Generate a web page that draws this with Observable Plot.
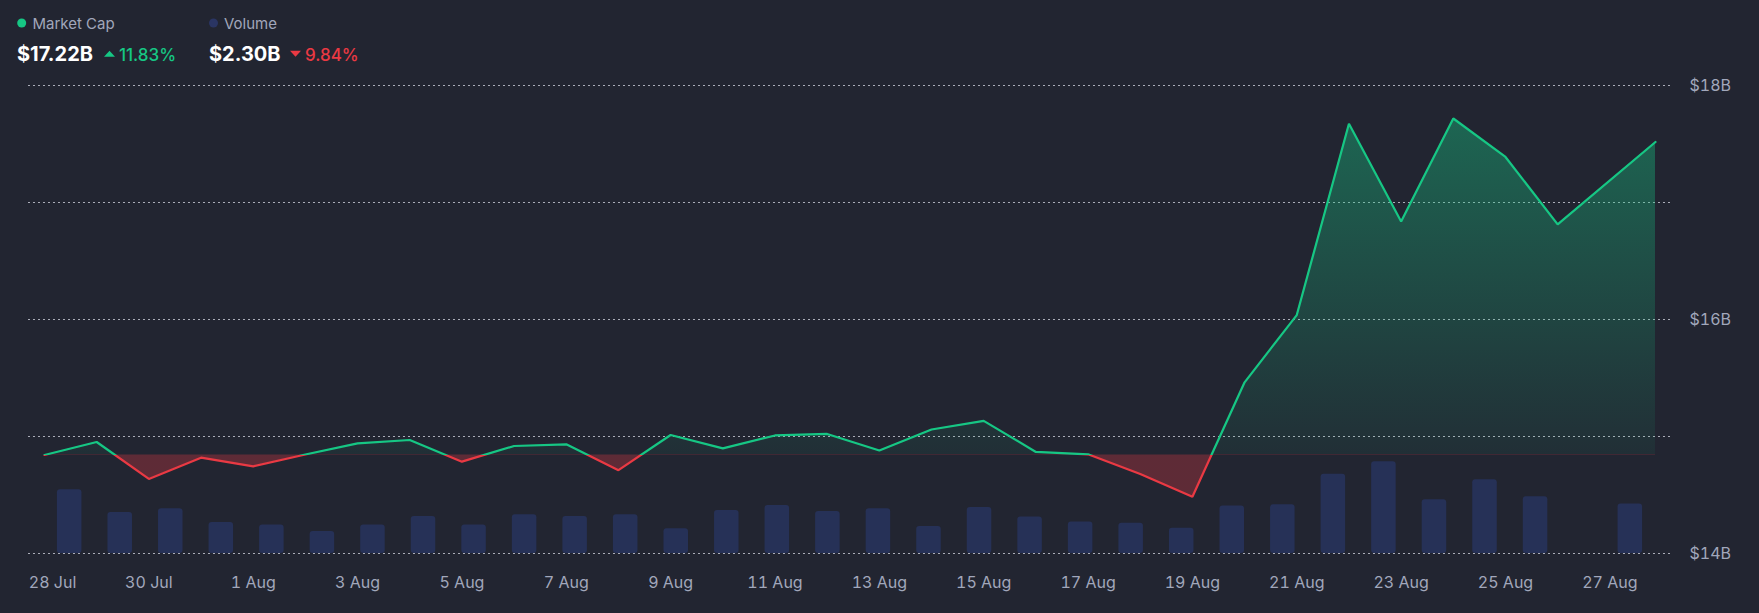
<!DOCTYPE html>
<html>
<head>
<meta charset="utf-8">
<script src="https://cdn.jsdelivr.net/npm/d3@7"></script>
<script src="https://cdn.jsdelivr.net/npm/@observablehq/plot@0.6"></script>
<style>
  html, body { margin: 0; padding: 0; background: #222531; overflow: hidden; }
  #wrap { width: 1759px; height: 613px; background: #222531; }
  #wrap svg { display: block; }
</style>
</head>
<body>
<div id="wrap"></div>
<script>
// ---------- data ----------
const dates = [
  "2023-07-28", "2023-07-29", "2023-07-30", "2023-07-31",
  "2023-08-01", "2023-08-02", "2023-08-03", "2023-08-04", "2023-08-05",
  "2023-08-06", "2023-08-07", "2023-08-08", "2023-08-09", "2023-08-10",
  "2023-08-11", "2023-08-12", "2023-08-13", "2023-08-14", "2023-08-15",
  "2023-08-16", "2023-08-17", "2023-08-18", "2023-08-19", "2023-08-20",
  "2023-08-21", "2023-08-22", "2023-08-23", "2023-08-24", "2023-08-25",
  "2023-08-26", "2023-08-27T21:00"
];
// market cap, $B
const marketCap = [
  14.842, 14.953, 14.637, 14.819, 14.745, 14.846, 14.941, 14.970, 14.785,
  14.919, 14.933, 14.712, 15.013, 14.899, 15.009, 15.022, 14.880, 15.060,
  15.134, 14.868, 14.848, 14.679, 14.485, 15.463, 16.038, 17.673, 16.837,
  17.718, 17.389, 16.813, 17.517
];
// volume, $B
const volume = [
  2.96, 1.91, 2.08, 1.44, 1.32, 1.02, 1.32, 1.72, 1.32,
  1.80, 1.72, 1.80, 1.15, 2.00, 2.23, 1.95, 2.08, 1.25,
  2.14, 1.69, 1.46, 1.40, 1.17, 2.21, 2.26, 3.68, 4.26,
  2.50, 3.43, 2.64, 2.30
];
const xTickDates = [
  "2023-07-28", "2023-07-30", "2023-08-01", "2023-08-03", "2023-08-05",
  "2023-08-07", "2023-08-09", "2023-08-11", "2023-08-13", "2023-08-15",
  "2023-08-17", "2023-08-19", "2023-08-21", "2023-08-23", "2023-08-25",
  "2023-08-27"
];
const yGrid = [14, 15, 16, 17, 18];
const yLabels = [14, 16, 18];

const header = {
  capLabel: "Market Cap", capValue: "$17.22B", capChange: "11.83%",
  volLabel: "Volume", volValue: "$2.30B", volChange: "9.84%"
};

// ---------- style ----------
const GREEN = "#16c784", RED = "#ea3943", BAR = "#263157", VOLDOT = "#2a3563";
const TEXT = "#a1a7bb", BG = "#222531";
const FONT = "Inter, 'Noto Sans', sans-serif";

const parse = s => new Date(s.includes("T") ? s + ":00Z" : s + "T00:00:00Z");
const rows = dates.map((d, i) => ({ date: parse(d), cap: marketCap[i], vol: volume[i] }));
const baseline = marketCap[0];
const yDomain = [14, 18];
const volToCap = 0.184;           // volume bars share the lower band of the cap axis
const t0 = rows[0].date, tN = rows[rows.length - 1].date, span = tN - t0;
const barSlots = 32;
const barCenter = d => +t0 + (d.date - t0) * (1 - 1 / barSlots) + span / (2 * barSlots);
const barHalf = 0.235 * 864e5;
const ticks = xTickDates.map(parse);

// ---------- header (legend) ----------
const wrap = d3.select("#wrap");
const hs = wrap.append("svg").attr("width", 1759).attr("height", 70)
  .style("background", BG).attr("font-family", FONT);
hs.append("circle").attr("cx", 21.7).attr("cy", 23).attr("r", 4.5).attr("fill", GREEN);
hs.append("text").attr("x", 32.5).attr("y", 28.5).attr("font-size", 15).attr("fill", TEXT).text(header.capLabel);
hs.append("circle").attr("cx", 213.5).attr("cy", 23).attr("r", 4.5).attr("fill", VOLDOT);
hs.append("text").attr("x", 224).attr("y", 28.5).attr("font-size", 15).attr("fill", TEXT).text(header.volLabel);
hs.append("text").attr("x", 17).attr("y", 60.5).attr("font-size", 20).attr("font-weight", 700).attr("fill", "#fff").text(header.capValue);
hs.append("path").attr("d", "M104,56.7L115,56.7L109.5,50.7Z").attr("fill", GREEN);
hs.append("text").attr("x", 119).attr("y", 60.5).attr("font-size", 17).attr("font-weight", 500).attr("fill", GREEN).text(header.capChange);
hs.append("text").attr("x", 209).attr("y", 60.5).attr("font-size", 20).attr("font-weight", 700).attr("fill", "#fff").text(header.volValue);
hs.append("path").attr("d", "M290,50.7L301,50.7L295.5,56.7Z").attr("fill", RED);
hs.append("text").attr("x", 305).attr("y", 60.5).attr("font-size", 17).attr("font-weight", 500).attr("fill", RED).text(header.volChange);

// ---------- chart ----------
const axisOpts = { tickSize: 0, tickPadding: 23, tickFormat: d3.utcFormat("%-d %b"), label: null };
const chart = Plot.plot({
  width: 1759,
  height: 543,
  marginTop: 15,
  marginBottom: 60,
  marginLeft: 28,
  marginRight: 89,
  style: { background: BG, color: TEXT, fontFamily: FONT, fontSize: "16px" },
  x: {
    type: "utc",
    domain: [t0, tN],
    insetLeft: 16,
    insetRight: 15,
    axis: null
  },
  y: {
    domain: yDomain,
    axis: "right",
    ticks: yLabels,
    tickFormat: d => `$${d}B`,
    tickSize: 0,
    tickPadding: 19,
    label: null
  },
  marks: [
    Plot.ruleY(yGrid, { stroke: "#c3c6d0", strokeOpacity: 0.85, strokeDasharray: "2,3" }),
    Plot.rect(rows, {
      x1: d => new Date(barCenter(d) - barHalf),
      x2: d => new Date(barCenter(d) + barHalf),
      y1: () => yDomain[0],
      y2: d => yDomain[0] + d.vol * volToCap,
      fill: BAR,
      rx: 3
    }),
    Plot.areaY(rows, { x: "date", y1: () => baseline, y2: "cap", fill: "url(#capAreaGrad)" }),
    Plot.line(rows, { x: "date", y: "cap", stroke: "url(#capLineGrad)", strokeWidth: 2.2, strokeLinejoin: "miter" }),
    // first date label sits clamped against the left edge of the frame
    Plot.axisX(ticks.slice(0, 1), { ...axisOpts, dx: 8 }),
    Plot.axisX(ticks.slice(1), axisOpts)
  ]
});

const svg = d3.select(chart.tagName.toLowerCase() === "svg" ? chart : chart.querySelector("svg"));
const ys = chart.scale("y");
const H = 543;
const by = ys.apply(baseline);
const topY = ys.apply(d3.max(marketCap));
const botY = ys.apply(yDomain[0]);
const defs = svg.insert("defs", ":first-child");

const lg = defs.append("linearGradient").attr("id", "capLineGrad")
  .attr("gradientUnits", "userSpaceOnUse").attr("x1", 0).attr("x2", 0).attr("y1", 0).attr("y2", H);
lg.append("stop").attr("offset", by / H).attr("stop-color", GREEN);
lg.append("stop").attr("offset", by / H).attr("stop-color", RED);

const ag = defs.append("linearGradient").attr("id", "capAreaGrad")
  .attr("gradientUnits", "userSpaceOnUse").attr("x1", 0).attr("x2", 0).attr("y1", topY).attr("y2", botY);
const f = (by - topY) / (botY - topY);
ag.append("stop").attr("offset", 0).attr("stop-color", GREEN).attr("stop-opacity", 0.4);
ag.append("stop").attr("offset", f).attr("stop-color", GREEN).attr("stop-opacity", 0.06);
ag.append("stop").attr("offset", f).attr("stop-color", RED).attr("stop-opacity", 0.3);
ag.append("stop").attr("offset", 1).attr("stop-color", RED).attr("stop-opacity", 0.3);

document.getElementById("wrap").appendChild(chart);
</script>
</body>
</html>
